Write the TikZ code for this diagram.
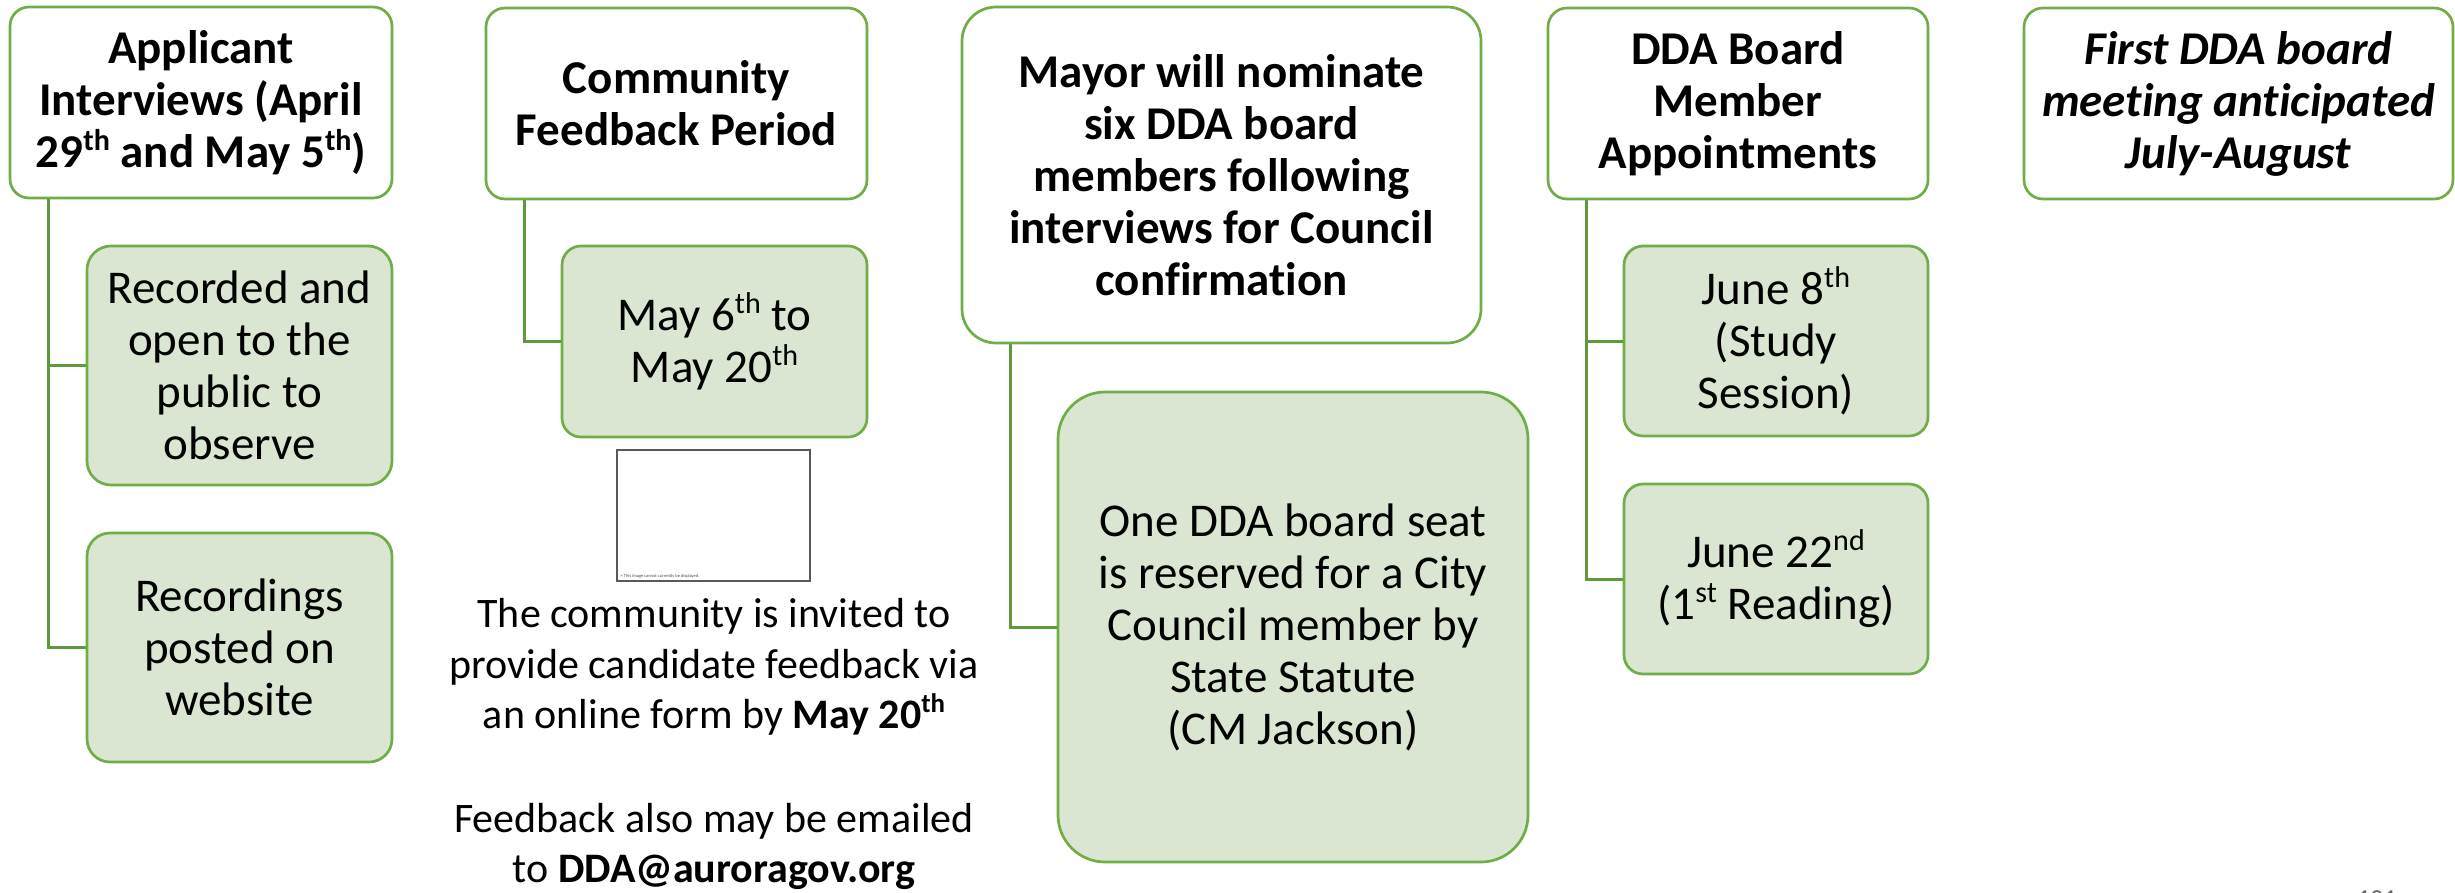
\documentclass[tikz,border=0pt]{standalone}
\usepackage{fontspec}
\usepackage{graphicx}
\setmainfont[Ligatures=NoCommon]{Carlito}
\definecolor{bgreen}{HTML}{70AD47}
\definecolor{cgreen}{HTML}{5E9A3C}
\definecolor{lfill}{HTML}{DAE5D2}
\newcommand{\supx}[1]{\raisebox{0.36em}{\scalebox{0.64}{#1}}}
\begin{document}
\begin{tikzpicture}[x=1pt,y=-1pt,
  hbox/.style={draw=bgreen, line width=2.7pt, fill=white, align=center, inner sep=0pt,
               font=\fontsize{47}{52}\selectfont\bfseries},
  sbox/.style={draw=bgreen, line width=2.7pt, fill=lfill, align=center, inner sep=0pt,
               font=\fontsize{47}{52}\selectfont},
  conn/.style={draw=cgreen, line width=3pt},
  fbline/.style={anchor=base, inner sep=0pt, font=\fontsize{42}{51}\selectfont}]
\useasboundingbox (0,0) rectangle (2455,892);

% column 1
\node[hbox, minimum width=382pt, minimum height=191pt, rounded corners=19pt] (b1) at (201,102.5)
  {Applicant\\Interviews (April\\29\supx{th} and May 5\supx{th})};
\node[sbox, minimum width=305pt, minimum height=239pt, rounded corners=24pt] (s1a) at (239.5,365.5)
  {Recorded and\\open to the\\public to\\observe};
\node[sbox, minimum width=305pt, minimum height=229pt, rounded corners=23pt] (s1b) at (239.5,647.5)
  {Recordings\\posted on\\website};
\coordinate (j1) at (48,0);
\draw[conn] (b1.south -| j1) |- (s1b.west);
\draw[conn] (s1a.west -| j1) -- (s1a.west);

% column 2
\node[hbox, minimum width=381pt, minimum height=191pt, rounded corners=19pt] (b2) at (676.5,103.5)
  {Community\\Feedback Period};
\node[sbox, minimum width=305pt, minimum height=191pt, rounded corners=19pt] (s2) at (714.5,341.5)
  {May 6\supx{th} to\\May 20\supx{th}};
\coordinate (j2) at (524,0);
\draw[conn] (b2.south -| j2) |- (s2.west);

\node[draw=gray!70!black, line width=1.2pt, minimum width=193pt, minimum height=131pt, inner sep=0pt] (pic) at (713.5,515.5) {};
\node[anchor=south west, inner sep=0pt, font=\fontsize{4.5}{5}\selectfont, text=gray!60!black] (pictxt)
  at ([shift={(4pt,3pt)}]pic.south west) {\textcolor{red}{×} This image cannot currently be displayed.};

\node[fbline] (f1) at (714,627) {The community is invited to};
\node[fbline] (f2) at (714,678) {provide candidate feedback via};
\node[fbline] (f3) at (714,728) {an online form by \textbf{May 20\supx{th}}};
\node[fbline] (f4) at (714,832) {Feedback also may be emailed};
\node[fbline] (f5) at (714,882) {to \textbf{DDA@auroragov.org}};

% column 3
\node[hbox, minimum width=519pt, minimum height=336pt, rounded corners=34pt] (b3) at (1221.5,175)
  {Mayor will nominate\\six DDA board\\members following\\interviews for Council\\confirmation};
\node[sbox, minimum width=470pt, minimum height=470pt, rounded corners=47pt] (s3) at (1293,627)
  {One DDA board seat\\is reserved for a City\\Council member by\\State Statute\\(CM Jackson)};
\coordinate (j3) at (1010,0);
\draw[conn] (b3.south -| j3) |- (s3.west);

% column 4
\node[hbox, minimum width=380pt, minimum height=191pt, rounded corners=19pt] (b4) at (1738,103.5)
  {DDA Board\\Member\\Appointments};
\node[sbox, minimum width=304pt, minimum height=190pt, rounded corners=19pt] (s4a) at (1776,341)
  {June 8\supx{th}\\(Study\\Session)};
\node[sbox, minimum width=304pt, minimum height=190pt, rounded corners=19pt] (s4b) at (1776,579)
  {June 22\supx{nd}\\(1\supx{st} Reading)};
\coordinate (j4) at (1586,0);
\draw[conn] (b4.south -| j4) |- (s4b.west);
\draw[conn] (s4a.west -| j4) -- (s4a.west);

% column 5
\node[hbox, minimum width=429pt, minimum height=191pt, rounded corners=19pt, font=\fontsize{47}{52}\selectfont\bfseries\itshape] (b5) at (2238.5,103.5)
  {First DDA board\\meeting anticipated\\July-August};

% page number (cut off at the bottom edge)
\node[anchor=base, inner sep=0pt, font=\fontsize{26}{30}\selectfont, text=gray!80!black] (pg) at (2377,907) {101};
\end{tikzpicture}
\end{document}
